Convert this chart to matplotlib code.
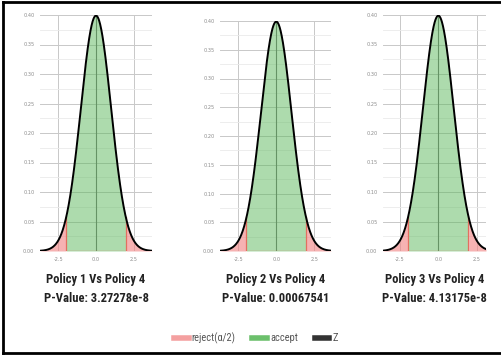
import numpy as np
import matplotlib
matplotlib.use("Agg")
import matplotlib.pyplot as plt
from matplotlib.lines import Line2D

# two-sided z test, alpha = 0.05
mu, sigma = 0.0, 1.0
z_crit = 1.96
titles = ["Policy 1 Vs Policy 4", "Policy 2 Vs Policy 4", "Policy 3 Vs Policy 4"]
p_values = ["3.27278e-8", "0.00067541", "4.13175e-8"]
x_limits = [(-3.7, 3.7), (-3.7, 3.6), (-3.6, 3.1)]
y_ticks = [0.00, 0.05, 0.10, 0.15, 0.20, 0.25, 0.30, 0.35, 0.40]
x_ticks = [-2.5, 0.0, 2.5]

# panel boxes in pixels: left, right, top, bottom
boxes = [(40, 152, 15, 251), (220, 331, 21, 251), (383, 486, 15, 251)]

W, H = 501, 356
fig = plt.figure(figsize=(W / 100, H / 100), dpi=100)
fig.patch.set_facecolor("white")

font_narrow = ["Liberation Sans Narrow", "Roboto Condensed", "DejaVu Sans"]

red_fill = "#f08080"
red_edge = "#e27060"
green_fill = "#5cb85c"


def pdf(x):
    return np.exp(-0.5 * ((x - mu) / sigma) ** 2) / (sigma * np.sqrt(2 * np.pi))


for (l, r, t, b), title, pv, xl in zip(boxes, titles, p_values, x_limits):
    ax = fig.add_axes([l / W, 1 - b / H, (r - l) / W, (b - t) / H])
    x = np.linspace(xl[0], xl[1], 600)
    y = pdf(x)

    left = x <= -z_crit
    right = x >= z_crit
    mid = (x >= -z_crit) & (x <= z_crit)
    ax.fill_between(x[mid], 0, y[mid], color=green_fill, alpha=0.5, lw=0, zorder=3)
    for m in (left, right):
        ax.fill_between(x[m], 0, y[m], color=red_fill, alpha=0.6, lw=0, zorder=3)
    for zc in (-z_crit, z_crit):
        ax.plot([zc, zc], [0, pdf(zc)], color=red_edge, lw=0.9, zorder=4)
    ax.plot([-z_crit, z_crit], [0, 0], color=red_edge, lw=0.9, zorder=4)
    ax.plot(x, y, color="black", lw=1.4, zorder=5)

    ax.set_xlim(*xl)
    ax.set_ylim(0, 0.40)
    ax.set_yticks(y_ticks)
    ax.set_yticks(np.arange(0.025, 0.40, 0.05), minor=True)
    ax.set_xticks(x_ticks)
    ax.set_yticklabels([f"{v:.2f}" for v in y_ticks])
    ax.set_xticklabels([f"{v:.1f}" for v in x_ticks])
    ax.tick_params(length=0, labelsize=3.6, labelcolor="#8c8c8c", pad=4)
    ax.tick_params(which="minor", length=0)
    ax.grid(which="major", color="#c8c8c8", lw=0.7, zorder=1)
    ax.grid(which="minor", axis="y", color="#eaeaea", lw=0.6, zorder=1)
    ax.axvline(0, color="#6f6f6f", lw=0.8, zorder=1)
    ax.set_axisbelow(True)
    for s in ax.spines.values():
        s.set_visible(False)

    cx = (l + r) / 2 / W
    fig.text(cx, 1 - 280 / H, title, ha="center", va="center", fontsize=9,
             fontweight="bold", color="#222222", family=font_narrow)
    fig.text(cx, 1 - 298 / H, "P-Value: " + pv, ha="center", va="center", fontsize=9,
             fontweight="bold", color="#222222", family=font_narrow)

handles = [Line2D([], [], color="#f4a0a0", lw=4),
           Line2D([], [], color="#6cc06c", lw=4),
           Line2D([], [], color="#333333", lw=4)]
fig.legend(handles, ["reject(α/2)", "accept", "Z"], loc="center",
           bbox_to_anchor=(256 / W, 1 - 338 / H), ncol=3, frameon=False,
           handlelength=1.4, handletextpad=0.3, columnspacing=1.6,
           prop={"family": font_narrow, "size": 7.5}, labelcolor="#555555")

# outer frame
for xs, ys in [([3, 3], [2, 353]), ([3, 501], [2, 2]), ([3, 501], [353, 353])]:
    fig.add_artist(Line2D([v / W for v in xs], [1 - v / H for v in ys],
                          color="black", lw=2, transform=fig.transFigure))

fig.savefig("out.png", dpi=100)
